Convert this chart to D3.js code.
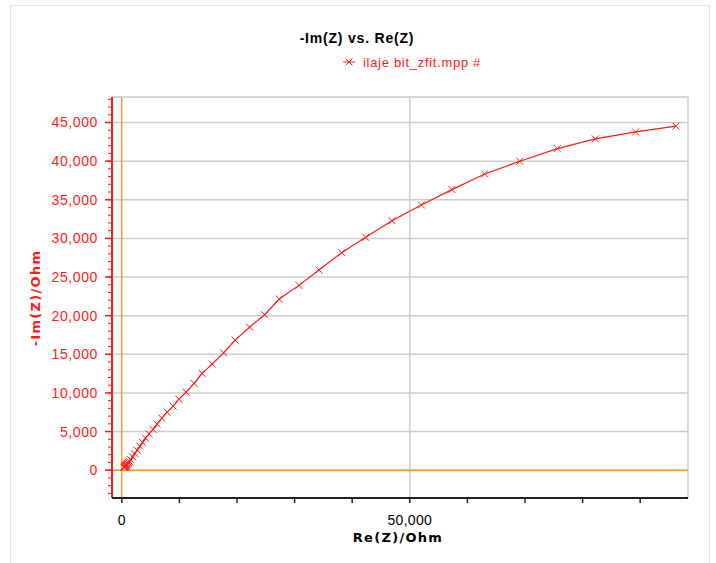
<!DOCTYPE html>
<html>
<head>
<meta charset="utf-8" />
<title>-Im(Z) vs. Re(Z)</title>
<style>
html, body {
	margin:0;
	padding:0;
	background:#ffffff;
}
svg {
	display:block;
	font-family: Arial, 'Liberation Sans', sans-serif;
}
</style>
</head>
<body>

<script type="text/javascript" src="https://cdn.jsdelivr.net/npm/d3@7"></script>

<script>

//=======================================
// data (Ohm)
//=======================================

let re = [400, 450, 500, 560, 620, 680, 740, 800, 870, 950,
          1040, 1160, 1320, 1550, 1860, 2260, 2660, 3130, 3600, 4120,
          4740, 5440, 6130, 6950, 7870, 8910, 9900, 11170, 12560, 13950,
          15690, 17670, 19680, 22190, 24790, 27330, 30750, 34230, 38170, 42340,
          46900, 52000, 57300, 63000, 69100, 75600, 82200, 89200, 96200];

let im = [330, 370, 420, 470, 520, 570, 620, 680, 740, 810,
          890, 990, 1140, 1360, 1720, 2160, 2590, 3110, 3590, 4150,
          4700, 5270, 5960, 6740, 7510, 8290, 9200, 10100, 11230, 12530,
          13730, 15190, 16840, 18520, 20120, 22150, 23920, 25910, 28150, 30140,
          32290, 34330, 36310, 38340, 39990, 41620, 42880, 43780, 44520];

let yTicks      = [0, 5000, 10000, 15000, 20000, 25000, 30000, 35000, 40000, 45000],
    yMinorTicks = d3.range(-3000, 48001, 1000),
    xTicks      = [0, 10000, 20000, 30000, 40000, 50000, 60000, 70000, 80000, 90000],
    xLabelTicks = [0, 50000],
    xGrid       = [50000];

let title       = '-Im(Z) vs. Re(Z)',
    seriesName  = 'ilaje bit_zfit.mpp #',
    xTitle      = 'Re(Z)/Ohm',
    yTitle      = '-Im(Z)/Ohm';

let data = re.map((d,i)=>({re:d, im:im[i]}));


//=======================================
// chart
//=======================================

let width = 716,
    height = 563,
    plot = {left:112, right:688, top:97, bottom:498},

    x = d3.scaleLinear().domain([-1700, 98300]).range([plot.left, plot.right]),
    y = d3.scaleLinear().domain([-3600, 48300]).range([plot.bottom, plot.top]),
    fmt = d3.format(','),
    red = '#ff1a1a',
    orange = '#ff9a2e',
    grid = '#cccccc',
    cross = 'M-3.5,-3.5L3.5,3.5M-3.5,3.5L3.5,-3.5';


d3.select('body')
	.append('svg')
		.attr('width', width)
		.attr('height', height)
		.call(sel=>{

			// outer frame
			sel.append('rect')
				.attr('x', 10.5).attr('y', 5.5)
				.attr('width', 699).attr('height', 580)
				.attr('fill', 'none')
				.attr('stroke', '#e2e7f0');

			//=====================
			// titles
			//=====================
			sel.append('text')
				.attr('x', 357).attr('y', 43)
				.attr('text-anchor', 'middle')
				.attr('font-size', 14)
				.attr('font-weight', 'bold')
				.attr('letter-spacing', 0.8)
				.attr('fill', '#000')
				.text(title);

			sel.append('g').attr('class','legend')
				.attr('transform', 'translate('+[349, 62]+')')
				.call(sel=>{
					sel.append('line')
						.attr('x1', -6).attr('x2', 6)
						.attr('stroke', red);
					sel.append('path')
						.attr('d', cross)
						.attr('stroke', red)
						.attr('fill', 'none');
					sel.append('text')
						.attr('x', 14).attr('y', 4.5)
						.attr('font-size', 13)
						.attr('letter-spacing', 0.7)
						.attr('fill', red)
						.text(seriesName);
				});

			//=====================
			// grid
			//=====================
			sel.append('g').attr('class','grid')
				.call(sel=>{

					sel.selectAll('line.h').data(yTicks)
						.enter()
							.append('line').attr('class','h')
								.attr('x1', plot.left).attr('x2', plot.right)
								.attr('y1', d=>y(d)).attr('y2', d=>y(d))
								.attr('stroke', grid)
								.attr('stroke-width', 1.5);

					sel.selectAll('line.v').data(xGrid)
						.enter()
							.append('line').attr('class','v')
								.attr('x1', d=>x(d)).attr('x2', d=>x(d))
								.attr('y1', plot.top).attr('y2', plot.bottom)
								.attr('stroke', grid)
								.attr('stroke-width', 1.5);

					// top & right border
					sel.append('path')
						.attr('d', 'M'+[plot.left, plot.top]+'H'+plot.right+'V'+plot.bottom)
						.attr('fill', 'none')
						.attr('stroke', grid)
						.attr('stroke-width', 1.5);

					// zero lines
					sel.append('line')
						.attr('x1', plot.left).attr('x2', plot.right)
						.attr('y1', y(0)).attr('y2', y(0))
						.attr('stroke', orange)
						.attr('stroke-width', 1.5);

					sel.append('line')
						.attr('x1', x(0)).attr('x2', x(0))
						.attr('y1', plot.top).attr('y2', plot.bottom)
						.attr('stroke', orange)
						.attr('stroke-width', 1.5);

				});

			//=====================
			// axes
			//=====================
			sel.append('g').attr('class','y-axis')
				.call(sel=>{

					sel.selectAll('line.minor').data(yMinorTicks)
						.enter()
							.append('line').attr('class','minor')
								.attr('x1', plot.left-4).attr('x2', plot.left)
								.attr('y1', d=>y(d)).attr('y2', d=>y(d))
								.attr('stroke', red);

					sel.selectAll('line.major').data(yTicks)
						.enter()
							.append('line').attr('class','major')
								.attr('x1', plot.left-7).attr('x2', plot.left)
								.attr('y1', d=>y(d)).attr('y2', d=>y(d))
								.attr('stroke', red)
								.attr('stroke-width', 1.5);

					sel.selectAll('text').data(yTicks)
						.enter()
							.append('text')
								.attr('x', 98)
								.attr('y', d=>y(d)+5)
								.attr('text-anchor', 'end')
								.attr('font-size', 14)
								.attr('letter-spacing', 0.6)
								.attr('fill', red)
								.text(d=>fmt(d));

					sel.append('line')
						.attr('x1', plot.left).attr('x2', plot.left)
						.attr('y1', plot.top).attr('y2', plot.bottom)
						.attr('stroke', red)
						.attr('stroke-width', 2);

					sel.append('text')
						.attr('transform', 'translate('+[40, 298]+') rotate(-90)')
						.attr('text-anchor', 'middle')
						.attr('font-family', "'DejaVu Sans', Verdana, sans-serif")
						.attr('font-size', 13)
						.attr('font-weight', 'bold')
						.attr('letter-spacing', 1.3)
						.attr('fill', red)
						.text(yTitle);

				});

			sel.append('g').attr('class','x-axis')
				.call(sel=>{

					sel.selectAll('line').data(xTicks)
						.enter()
							.append('line')
								.attr('x1', d=>x(d)).attr('x2', d=>x(d))
								.attr('y1', plot.bottom).attr('y2', plot.bottom+5)
								.attr('stroke', '#222')
								.attr('stroke-width', 1.5);

					sel.append('line')
						.attr('x1', plot.left).attr('x2', plot.right)
						.attr('y1', plot.bottom).attr('y2', plot.bottom)
						.attr('stroke', '#222')
						.attr('stroke-width', 2);

					sel.selectAll('text.tick').data(xLabelTicks)
						.enter()
							.append('text').attr('class','tick')
								.attr('x', d=>x(d))
								.attr('y', 525)
								.attr('text-anchor', 'middle')
								.attr('font-size', 14)
								.attr('letter-spacing', 0.3)
								.attr('fill', '#000')
								.text(d=>fmt(d));

					sel.append('text')
						.attr('x', 398).attr('y', 542)
						.attr('text-anchor', 'middle')
						.attr('font-family', "'DejaVu Sans', Verdana, sans-serif")
						.attr('font-size', 13)
						.attr('font-weight', 'bold')
						.attr('letter-spacing', 1.3)
						.attr('fill', '#000')
						.text(xTitle);

				});

			//=====================
			// series
			//=====================
			sel.append('g').attr('class','series')
				.call(sel=>{

					sel.append('path')
						.attr('d',
							d3.line()
								.x(d=>x(d.re))
								.y(d=>y(d.im))
								(data)
						)
						.attr('fill', 'none')
						.attr('stroke', red)
						.attr('stroke-width', 1.2);

					sel.selectAll('path.marker').data(data)
						.enter()
							.append('path').attr('class','marker')
								.attr('transform', d=>'translate('+[x(d.re), y(d.im)]+')')
								.attr('d', cross)
								.attr('fill', 'none')
								.attr('stroke', red);

				});

		});

</script>

</body>
</html>
